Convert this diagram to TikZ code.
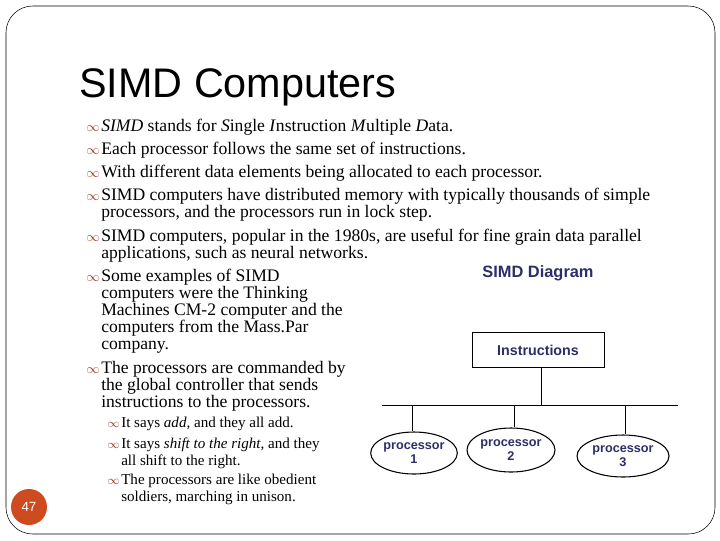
\documentclass[tikz,border=0pt]{standalone}
\usepackage{fontspec}
\setmainfont{Liberation Serif}
\setsansfont{Liberation Sans}
\usetikzlibrary{shapes.geometric}
\definecolor{bulletbrown}{RGB}{150,60,40}
\definecolor{navytext}{RGB}{45,45,105}
\definecolor{pageorange}{RGB}{205,75,30}
\newcommand{\blt}{\textcolor{bulletbrown}{$\infty$}}

\begin{document}
\begin{tikzpicture}[x=0.75pt,y=-0.75pt,
    txt/.style={anchor=base west, inner sep=0pt, font=\fontsize{13.2}{15}\selectfont},
    subtxt/.style={anchor=base west, inner sep=0pt, font=\fontsize{11.3}{13}\selectfont},
    mrk/.style={anchor=base west, inner sep=0pt},
    proc/.style={ellipse, draw, thick, minimum width=82pt*0.75, minimum height=42pt*0.75,
        inner sep=0pt, align=center, text=navytext,
        font=\sffamily\bfseries\fontsize{9.5}{10}\selectfont},
    bus/.style={thin}
    ]
\useasboundingbox (0,0) rectangle (720,540);
\draw[rounded corners=20pt] (6,6) rectangle (715,534);
\node[anchor=base west, inner sep=0pt, font=\sffamily\fontsize{31}{33}\selectfont] (title) at (79,97) {SIMD Computers};

% main bullets
\foreach \yy in {131,154,177,200,241,281,373}
    \node[mrk] at (86,\yy) {\blt};
\node[txt] (l1) at (101,131) {\textit{SIMD} stands for \textit{S}ingle \textit{I}nstruction \textit{M}ultiple \textit{D}ata.};
\node[txt] (l2) at (101,154) {Each processor follows the same set of instructions.};
\node[txt] (l3) at (101,177) {With different data elements being allocated to each processor.};
\node[txt] (l4) at (101,200) {SIMD computers have distributed memory with typically thousands of simple};
\node[txt] (l4b) at (101,217) {processors, and the processors run in lock step.};
\node[txt] (l5) at (101,241) {SIMD computers, popular in the 1980s, are useful for fine grain data parallel};
\node[txt] (l5b) at (101,258) {applications, such as neural networks.};
\node[txt] (l6) at (101,281) {Some examples of SIMD};
\node[txt] (l6b) at (101,298) {computers were the Thinking};
\node[txt] (l6c) at (101,315) {Machines CM-2 computer and the};
\node[txt] (l6d) at (101,332) {computers from the Mass.Par};
\node[txt] (l6e) at (101,349) {company.};
\node[txt] (l7) at (101,373) {The processors are commanded by};
\node[txt] (l7b) at (101,390) {the global controller that sends};
\node[txt] (l7c) at (101,407) {instructions to the processors.};

% sub bullets
\foreach \yy in {427,448,484}
    \node[mrk, font=\small] at (107,\yy) {\blt};
\node[subtxt] (s1) at (121,427) {It says \textit{add}, and they all add.};
\node[subtxt] (s2) at (121,448) {It says \textit{shift to the right}, and they};
\node[subtxt] (s2b) at (121,465) {all shift to the right.};
\node[subtxt] (s3) at (121,484) {The processors are like obedient};
\node[subtxt] (s3b) at (121,501) {soldiers, marching in unison.};

% diagram
\node[font=\sffamily\bfseries\fontsize{12.3}{14}\selectfont, text=navytext] (dtitle) at (538,273) {SIMD Diagram};
\node[draw, minimum width=132pt*0.75, minimum height=35pt*0.75, text=navytext,
    font=\sffamily\bfseries\fontsize{10.7}{12}\selectfont] (instr) at (538,350) {Instructions};
\coordinate (busl) at (382,405);
\coordinate (busr) at (678,405);
\coordinate (busm) at (541,405);
\draw[bus] (busl) -- (busr);
\draw[bus] (instr.south -| busm) -- (busm);
\node[proc] (p1) at (414,453) {processor\\[1pt]1};
\node[proc, minimum width=88pt*0.75, minimum height=44pt*0.75] (p2) at (511,450) {processor\\[1pt]2};
\node[proc, minimum width=92pt*0.75] (p3) at (623,456) {processor\\[1pt]3};
\foreach \p/\xx in {p1/412,p2/514,p3/625}{
    \coordinate (drop\p) at (\xx,405);
    \draw[bus] (drop\p) -- (drop\p |- \p.north);
}

% page number
\node[circle, fill=pageorange, minimum size=36pt*0.75, inner sep=0pt, text=white,
    font=\sffamily\fontsize{10}{12}\selectfont] (pgnum) at (29,507) {47};
\end{tikzpicture}
\end{document}
